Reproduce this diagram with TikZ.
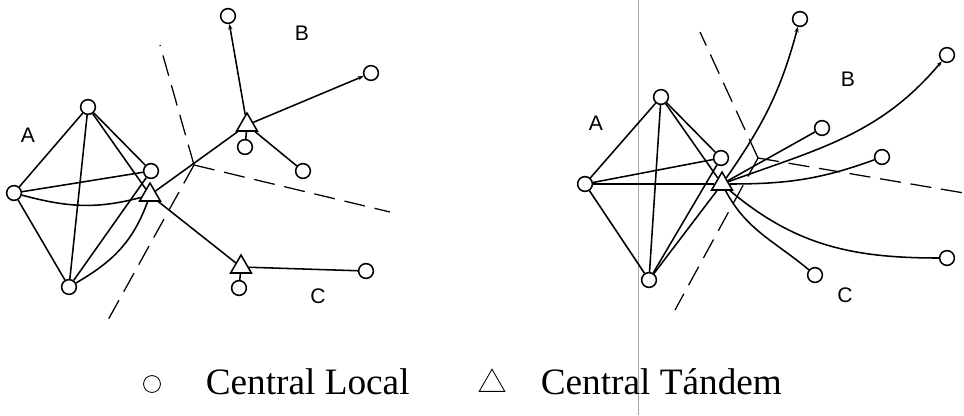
\documentclass[tikz,border=0pt]{standalone}
\usepackage{fontspec}
\setmainfont{Liberation Serif}
\setsansfont{Liberation Sans}
\usetikzlibrary{shapes.geometric,arrows.meta}
\begin{document}
\begin{tikzpicture}[x=0.025cm,y=-0.025cm,line width=1.1pt,
  loc/.style={draw,circle,minimum size=10.5pt,inner sep=0pt},
  tan/.style={draw,regular polygon,regular polygon sides=3,minimum size=17pt,inner sep=0pt},
  lbl/.style={font=\sffamily\fontsize{15}{17}\selectfont},
  zone/.style={dash pattern=on 15pt off 7pt,line width=0.9pt},
  arr/.style={-{Stealth[length=4pt,width=3pt]}},
  leg/.style={anchor=base west,inner sep=0pt,font=\fontsize{26.5}{30}\selectfont}]
\useasboundingbox (0,0) rectangle (964,415);
\draw[gray!70,line width=0.5pt] (638,0) -- (638,415);

\node[loc] (a1) at (88,107) {};
\node[loc] (a2) at (14,193) {};
\node[loc] (a3) at (151,171) {};
\node[loc] (a4) at (69,287) {};
\node[tan] (t1) at (150,195) {};
\node[tan] (t2) at (247,125) {};
\node[tan] (t3) at (241,267) {};
\node[loc] (b1) at (228,16) {};
\node[loc] (b2) at (371,73) {};
\node[loc] (b3) at (303,171) {};
\node[loc] (b4) at (245,147) {};
\node[loc] (c1) at (366,271) {};
\node[loc] (c2) at (239,288) {};
\node[lbl] (la) at (28,135) {A};
\node[lbl] (lb) at (302,33) {B};
\node[lbl] (lc) at (318,296) {C};

\draw (a1) -- (a2);
\draw (a1) -- (a3);
\draw (a1) -- (a4);
\draw (a1) -- (t1);
\draw (a2) -- (a3);
\draw (a2) -- (a4);
\draw (a2) to[out=-15,in=195] (t1);
\draw (a4) -- (a3);
\draw (a4) to[out=30,in=-110] (t1);
\draw (t1) -- (t2);
\draw (t1) -- (t3);
\draw[arr] (t2) -- (b1);
\draw[arr] (t2) -- (b2);
\draw (t2) -- (b3);
\draw (t2) -- (b4);
\draw (t3) -- (c1);
\draw (t3) -- (c2);

\coordinate (d0) at (194,165);
\coordinate (d1) at (160,45);
\coordinate (d2) at (108,320);
\coordinate (d3) at (390,212);
\draw[zone] (d0) -- (d1);
\draw[zone] (d0) -- (d2);
\draw[zone] (d0) -- (d3);

\node[loc] (p1) at (661,97) {};
\node[loc] (p2) at (585,184) {};
\node[loc] (p3) at (721,158) {};
\node[loc] (p4) at (649,280) {};
\node[tan] (s) at (722,184) {};
\node[loc] (q1) at (800,19) {};
\node[loc] (q2) at (947,55) {};
\node[loc] (q3) at (822,128) {};
\node[loc] (q4) at (882,157) {};
\node[loc] (r1) at (947,258) {};
\node[loc] (r2) at (815,275) {};
\node[lbl] (ma) at (596,123) {A};
\node[lbl] (mb) at (848,79) {B};
\node[lbl] (mc) at (845,295) {C};

\draw (p1) -- (p2);
\draw (p1) -- (p3);
\draw (p1) -- (p4);
\draw (p1) -- (s);
\draw (p2) -- (p3);
\draw (p2) -- (s);
\draw (p2) -- (p4);
\draw (p4) -- (p3);
\draw (p4) -- (s);
\draw[arr] (s) to[out=55,in=-105] (q1);
\draw[arr] (s) to[out=20,in=-130] (q2);
\draw (s) -- (q3);
\draw (s) to[out=0,in=200] (q4);
\draw (s) to[out=-40,in=180] (r1);
\draw (s) to[out=-62,in=140] (r2);

\coordinate (e0) at (758,158);
\coordinate (e1) at (700,32);
\coordinate (e2) at (675,310);
\coordinate (e3) at (964,193);
\draw[zone] (e0) -- (e1);
\draw[zone] (e0) -- (e2);
\draw[zone] (e0) -- (e3);

\node[loc,minimum size=12pt,line width=0.6pt] (k1) at (152,384) {};
\node[leg] (k2) at (205,394) {Central Local};
\node[tan,minimum size=21pt,line width=0.6pt] (k3) at (492,384) {};
\node[leg] (k4) at (540,394) {Central Tándem};
\end{tikzpicture}
\end{document}
